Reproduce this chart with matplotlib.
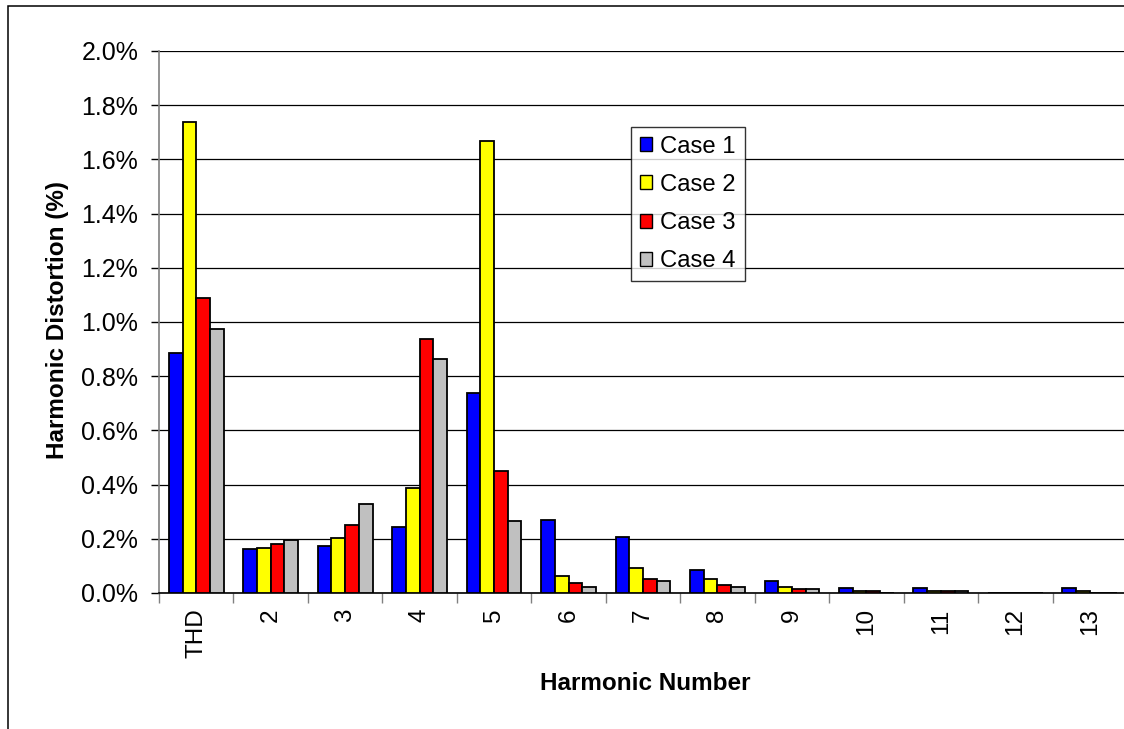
import matplotlib
matplotlib.use("Agg")
import matplotlib.pyplot as plt
from matplotlib.patches import Rectangle, Patch
from matplotlib.ticker import FuncFormatter, MultipleLocator, FixedLocator
import numpy as np

plt.rcParams['font.family'] = ['Liberation Sans', 'DejaVu Sans']

categories = ["THD", "2", "3", "4", "5", "6", "7", "8", "9", "10", "11", "12", "13"]
case1 = [0.885, 0.161, 0.175, 0.244, 0.738, 0.271, 0.208, 0.086, 0.045, 0.017, 0.017, 0.0, 0.017]
case2 = [1.737, 0.167, 0.202, 0.389, 1.668, 0.064, 0.092, 0.050, 0.023, 0.006, 0.006, 0.0, 0.006]
case3 = [1.090, 0.182, 0.251, 0.937, 0.450, 0.036, 0.052, 0.031, 0.016, 0.006, 0.006, 0.0, 0.0]
case4 = [0.975, 0.194, 0.327, 0.863, 0.265, 0.023, 0.045, 0.023, 0.016, 0.0, 0.006, 0.0, 0.0]
series_names = ["Case 1", "Case 2", "Case 3", "Case 4"]
series_colors = ["#0000FF", "#FFFF00", "#FF0000", "#C0C0C0"]

W, H = 1124, 729
fig = plt.figure(figsize=(W / 100, H / 100), dpi=100)
fig.patch.set_facecolor("white")

# chart-area border (runs off the right and bottom edges)
fig.patches.append(Rectangle((8 / W, -0.05), 1.2, 1 - 6 / H + 0.05,
                             transform=fig.transFigure, fill=False,
                             edgecolor="black", linewidth=1.1, zorder=0))

left, right = 159 / W, 1127 / W
bottom, top = 1 - 593 / H, 1 - 51 / H
ax = fig.add_axes([left, bottom, right - left, top - bottom])

n = len(categories)
centers = np.arange(n) + 0.5
bw = 0.184
for k, (vals, name, col) in enumerate(zip([case1, case2, case3, case4], series_names, series_colors)):
    ax.bar(centers + (k - 1.5) * bw, vals, width=bw, color=col,
           edgecolor="black", linewidth=1.3, label=name, zorder=3)

ax.set_xlim(0, n)
ax.set_ylim(0, 2.0)
ax.yaxis.set_major_locator(MultipleLocator(0.2))
ax.yaxis.set_major_formatter(FuncFormatter(lambda v, p: f"{v:.1f}%"))
ax.grid(axis="y", color="black", linewidth=0.9, zorder=1)
ax.set_axisbelow(True)

ax.xaxis.set_major_locator(FixedLocator(np.arange(0, n + 1)))
ax.xaxis.set_major_formatter(FuncFormatter(lambda v, p: ""))
ax.xaxis.set_minor_locator(FixedLocator(centers))
ax.set_xticklabels(categories, minor=True, rotation=90)
ax.tick_params(axis="x", which="major", length=7, width=1, color="#808080", direction="out")
ax.tick_params(axis="x", which="minor", length=0, pad=11, labelsize=17.5)
ax.tick_params(axis="y", length=6, width=1, color="black", direction="out", pad=9, labelsize=18)

for s in ["top", "right"]:
    ax.spines[s].set_visible(False)
ax.spines["left"].set_color("#808080")
ax.spines["left"].set_linewidth(1.2)
ax.spines["bottom"].set_color("black")
ax.spines["bottom"].set_linewidth(1.2)

fig.text(645 / W, 1 - 683 / H, "Harmonic Number",
         ha="center", va="center", fontsize=17.5, fontweight="bold")
fig.text(58 / W, 1 - 320 / H, "Harmonic Distortion (%)", rotation=90,
         ha="center", va="center", fontsize=17.5, fontweight="bold")

handles = [Patch(facecolor=c, edgecolor="black", linewidth=1.0) for c in series_colors]
leg = fig.legend(handles, series_names, loc="upper left",
                 bbox_to_anchor=(631 / W, 1 - 127 / H), fontsize=17.2,
                 handlelength=0.52, handleheight=0.52, handletextpad=0.35,
                 labelspacing=0.68, borderpad=0.36, borderaxespad=0,
                 frameon=True, fancybox=False, shadow=False)
leg.get_frame().set_edgecolor("black")
leg.get_frame().set_linewidth(1.0)

fig.savefig("out.png", dpi=100)
